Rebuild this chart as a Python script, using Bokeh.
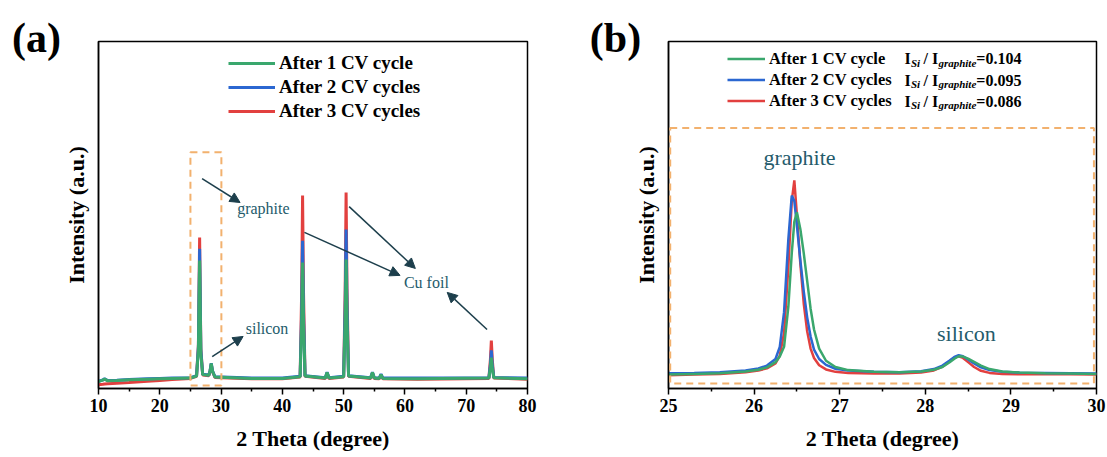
from bokeh.plotting import figure
from bokeh.models import (Range1d, FixedTicker, Label, Arrow, NormalHead,
                          BoxAnnotation, Legend, LegendItem)
from bokeh.layouts import row
from bokeh.embed import file_html
from bokeh.resources import INLINE

FONT = "Liberation Serif"
GREEN = "#3aa76d"
BLUE = "#2b67d1"
RED = "#e2403f"
ORANGE = "#f2b16e"
TXT = "#245b6b"
ARW = "#1d3f4c"

series_names = ["After 1 CV cycle", "After 2 CV cycles", "After 3 CV cycles"]
ratios = ["0.104", "0.095", "0.086"]

# ---------------- panel (a) data ----------------
x_a = [10.0, 10.7, 11.0, 11.5, 13.0, 15.0, 18.0, 20.0, 22.0, 25.0,
       26.0, 26.3, 26.5, 26.7, 27.0,
       28.0, 28.2, 28.4, 28.6, 29.0, 35.0, 40.0,
       42.9, 43.15, 43.3, 43.45, 43.7,
       47.0, 47.3, 47.6,
       50.0, 50.25, 50.4, 50.55, 50.8,
       54.4, 54.7, 55.0, 55.8, 56.1, 56.4, 62.0,
       73.7, 73.95, 74.1, 74.25, 74.5, 80.0]
y_a1 = [20, 24, 27, 22, 23, 25, 27, 28, 29, 30,
        36, 110, 369, 100, 40,
        38, 50, 72, 50, 33, 29, 29,
        34, 190, 363, 190, 36,
        30, 46, 30,
        34, 195, 372, 195, 36,
        30, 46, 30, 29, 40, 29, 28,
        30, 60, 89, 60, 31, 28]
y_a2 = [21, 25, 28, 23, 24, 26, 28, 29, 30, 31,
        37, 120, 403, 110, 41,
        39, 51, 73, 51, 34, 30, 30,
        35, 220, 426, 220, 37,
        31, 47, 31,
        35, 235, 458, 235, 37,
        31, 47, 31, 30, 41, 30, 30,
        31, 70, 110, 70, 32, 30]
y_a3 = [11, 12, 13, 13.5, 15, 17, 21, 23, 26, 29,
        35, 125, 435, 115, 39,
        37, 49, 71, 49, 32, 28, 28,
        33, 280, 556, 280, 35,
        29, 45, 29,
        33, 285, 565, 285, 35,
        29, 45, 29, 28, 39, 28, 27,
        29, 85, 138, 85, 30, 27]

# ---------------- panel (b) data ----------------
x_b = [25.0, 25.3, 25.6, 25.9, 26.05, 26.15, 26.25, 26.3, 26.35, 26.4,
       26.44, 26.47, 26.5, 26.54, 26.58, 26.62, 26.66, 26.7, 26.76, 26.84,
       26.95, 27.1, 27.4, 27.7, 27.95, 28.1, 28.2, 28.28, 28.34, 28.39,
       28.44, 28.5, 28.57, 28.65, 28.75, 28.9, 29.1, 29.4, 29.7, 30.0]
y_b1 = [40, 42, 44, 49, 54, 61, 76, 92, 120, 235,
        390, 480, 508, 460, 390, 310, 230, 170, 115, 80,
        62, 53, 48, 47, 49, 54, 62, 75, 86, 93,
        92, 86, 77, 66, 56, 49, 46, 44, 43, 42]
y_b2 = [44, 45, 47, 52, 58, 66, 85, 120, 220, 430,
        556, 540, 470, 370, 280, 205, 150, 112, 85, 68,
        57, 52, 48, 47, 50, 56, 66, 80, 91, 96,
        93, 84, 72, 61, 53, 48, 46, 45, 44, 43]
y_b3 = [38, 40, 42, 47, 52, 58, 72, 95, 160, 350,
        540, 600, 500, 360, 245, 165, 115, 88, 67, 55,
        48, 45, 43, 43, 46, 52, 63, 78, 89, 93,
        88, 76, 62, 51, 45, 42, 41, 41, 41, 40]

ticks_a = [10, 20, 30, 40, 50, 60, 70, 80]
minor_a = [15, 25, 35, 45, 55, 65, 75]
ticks_b = [25, 26, 27, 28, 29, 30]
minor_b = [25.5, 26.5, 27.5, 28.5, 29.5]


def make_fig(width, left, right, xr, ticks, minor):
    p = figure(width=width, height=457, output_backend="svg", toolbar_location=None,
               x_range=Range1d(*xr), y_range=Range1d(0, 1000), title=None,
               min_border_left=left, min_border_right=right,
               min_border_top=41, min_border_bottom=69)
    p.xgrid.visible = False
    p.ygrid.visible = False
    p.outline_line_color = "black"
    p.outline_line_width = 1.5
    p.outline_line_alpha = 1
    ax = p.xaxis[0]
    ax.ticker = FixedTicker(ticks=ticks, minor_ticks=minor)
    ax.major_tick_out = 6
    ax.major_tick_in = 0
    ax.minor_tick_out = 3
    ax.minor_tick_in = 0
    ax.axis_line_width = 1.5
    ax.major_tick_line_width = 1.5
    ax.minor_tick_line_width = 1.5
    ax.major_label_text_font = FONT
    ax.major_label_text_font_style = "bold"
    ax.major_label_text_font_size = "18px"
    ax.major_label_text_color = "black"
    ax.major_label_standoff = 4
    ax.axis_label = "2 Theta (degree)"
    ax.axis_label_text_font = FONT
    ax.axis_label_text_font_style = "bold"
    ax.axis_label_text_font_size = "22px"
    ax.axis_label_text_color = "black"
    ax.axis_label_standoff = 11
    ay = p.yaxis[0]
    ay.ticker = FixedTicker(ticks=[])
    ay.major_tick_line_color = None
    ay.minor_tick_line_color = None
    ay.major_label_text_font_size = "0px"
    ay.axis_line_width = 1.5
    ay.axis_label = "Intensity (a.u.)"
    ay.axis_label_text_font = FONT
    ay.axis_label_text_font_style = "bold"
    ay.axis_label_text_font_size = "22px"
    ay.axis_label_text_color = "black"
    ay.axis_label_standoff = 10
    return p


def add_text(p, x, y, text, size, color=TXT, style="normal"):
    p.add_layout(Label(x=x, y=y, text=text, text_font=FONT, text_font_size=size,
                       text_color=color, text_font_style=style,
                       text_align="center", text_baseline="middle"))


def add_panel_tag(p, sx, sy, text):
    # placed in the left side panel so that it is not clipped to the frame
    p.add_layout(Label(x=sx, y=sy, x_units="canvas", y_units="canvas", text=text,
                       text_font=FONT, text_font_size="42px", text_font_style="bold",
                       text_color="black", text_align="center", text_baseline="middle"),
                 "left")


def add_arrow(p, xs, ys, xe, ye):
    p.add_layout(Arrow(x_start=xs, y_start=ys, x_end=xe, y_end=ye,
                       line_color=ARW, line_width=1.5,
                       end=NormalHead(size=10, fill_color=ARW, line_color=ARW)))


# ================= panel (a) =================
pa = make_fig(553, 98, 26, (10, 80), ticks_a, minor_a)
ra3 = pa.line(x_a, y_a3, line_color=RED, line_width=3)
ra2 = pa.line(x_a, y_a2, line_color=BLUE, line_width=3)
ra1 = pa.line(x_a, y_a1, line_color=GREEN, line_width=3)

pa.add_layout(BoxAnnotation(left=25, right=30.05, bottom=8.6, top=681,
                            fill_alpha=0, line_color=ORANGE, line_alpha=1,
                            line_width=2, line_dash="7 5"))

leg_a = Legend(items=[LegendItem(label=series_names[0], renderers=[ra1]),
                      LegendItem(label=series_names[1], renderers=[ra2]),
                      LegendItem(label=series_names[2], renderers=[ra3])],
               location=(130, 265), padding=0, margin=0, spacing=0,
               glyph_width=47, glyph_height=24, label_height=24, label_standoff=4,
               label_text_font=FONT, label_text_font_style="bold",
               label_text_font_size="19px", label_text_color="black",
               border_line_color=None, background_fill_alpha=0)
pa.add_layout(leg_a)

add_text(pa, 36.9, 519, "graphite", "16px")
add_arrow(pa, 26.9, 605, 33.1, 536)
add_text(pa, 63.5, 305, "Cu foil", "16px")
add_arrow(pa, 43.6, 450, 59.2, 326)
add_arrow(pa, 50.9, 524, 61.7, 346)
add_arrow(pa, 73.4, 170, 66.9, 277)
add_text(pa, 37.5, 173, "silicon", "16px")
add_arrow(pa, 28.55, 92, 33.6, 150)
add_panel_tag(pa, 36, 37, "(a)")

# ================= panel (b) =================
pb = make_fig(554, 115, 11, (25, 30), ticks_b, minor_b)
rb3 = pb.line(x_b, y_b3, line_color=RED, line_width=2.5)
rb2 = pb.line(x_b, y_b2, line_color=BLUE, line_width=2.5)
rb1 = pb.line(x_b, y_b1, line_color=GREEN, line_width=2.5)

pb.add_layout(BoxAnnotation(left=25.02, right=29.97, bottom=14.4, top=751,
                            fill_alpha=0, line_color=ORANGE, line_alpha=1,
                            line_width=2, line_dash="7 5"))

leg_b = Legend(items=[LegendItem(label=series_names[0], renderers=[rb1]),
                      LegendItem(label=series_names[1], renderers=[rb2]),
                      LegendItem(label=series_names[2], renderers=[rb3])],
               location=(59, 277), padding=0, margin=0, spacing=0,
               glyph_width=38, glyph_height=21, label_height=21, label_standoff=4,
               label_text_font=FONT, label_text_font_style="bold",
               label_text_font_size="16.5px", label_text_color="black",
               border_line_color=None, background_fill_alpha=0)
pb.add_layout(leg_b)

row_y = [949.6, 889, 828.5]
x_ratio = 27.757
for yv, r in zip(row_y, ratios):
    pieces = [("I", 0, "16px", "bold", 0),
              ("Si", 6.4, "11px", "bold italic", -4),
              ("/", 19.1, "16px", "bold", 0),
              ("I", 27.5, "16px", "bold", 0),
              ("graphite", 33.9, "11px", "bold italic", -4),
              ("=" + r, 71.8, "16px", "bold", 0)]
    for t, xo, fs, st, yo in pieces:
        pb.add_layout(Label(x=x_ratio, y=yv, x_offset=xo, y_offset=yo, text=t,
                            text_font=FONT, text_font_size=fs, text_font_style=st,
                            text_color="black", text_align="left",
                            text_baseline="middle"))

add_text(pb, 26.53, 666, "graphite", "22px")
add_text(pb, 28.48, 158, "silicon", "22px")
add_panel_tag(pb, 62, 37, "(b)")

layout = row(pa, pb)
open("out.html", "w").write(file_html(layout, INLINE))
